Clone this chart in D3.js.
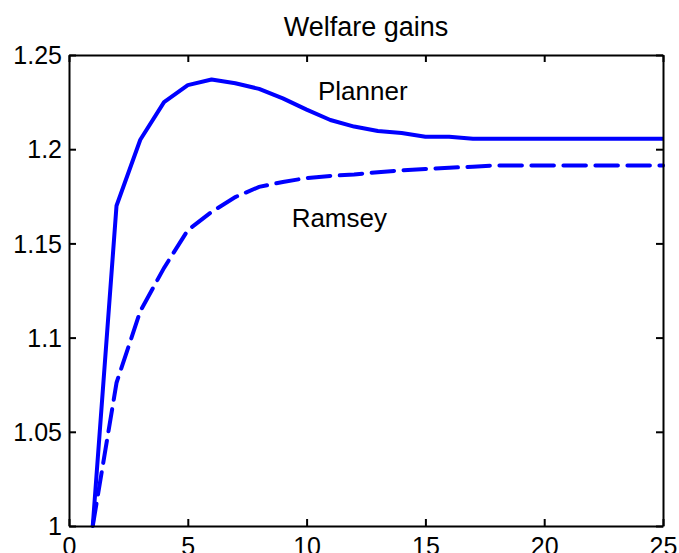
<!DOCTYPE html>
<html>
<head>
<meta charset="utf-8">
<script src="https://cdn.jsdelivr.net/npm/d3@7"></script>
<style>
  body { margin: 0; background: #fff; }
  svg { display: block; font-family: Arial, "Liberation Sans", Helvetica, sans-serif; }
</style>
</head>
<body>
<svg id="mainSvg" width="679" height="553"></svg>
<script>
// periods 1..25
let periods = d3.range(1, 26)
let planner = [1.000, 1.170, 1.205, 1.225, 1.234, 1.237, 1.235, 1.232, 1.227, 1.221,
    1.2155, 1.212, 1.2097, 1.2086, 1.2066, 1.2066, 1.2055, 1.2055, 1.2055, 1.2055,
    1.2055, 1.2055, 1.2055, 1.2055, 1.2055]
let ramsey = [1.000, 1.076, 1.114, 1.137, 1.157, 1.1667, 1.1746, 1.180, 1.1826, 1.1847,
    1.1858, 1.1866, 1.1878, 1.1888, 1.1895, 1.1902, 1.1907, 1.1914, 1.1914, 1.1914,
    1.1914, 1.1914, 1.1914, 1.1914, 1.1914]
let xTicks = [0, 5, 10, 15, 20, 25]
let yTicks = [1, 1.05, 1.1, 1.15, 1.2, 1.25]
let labels = [
    { text: 'Planner', x: 10.48, y: 1.2309 },
    { text: 'Ramsey', x: 9.37, y: 1.1635 }
]

let svg = d3.select('#mainSvg')
let plotLeft = 69, plotRight = 663, plotTop = 55, plotBottom = 526

let x = d3.scaleLinear().domain([0, 25]).range([plotLeft, plotRight])
let y = d3.scaleLinear().domain([1, 1.25]).range([plotBottom, plotTop])

let line = d3.line()
    .x((d, i) => x(periods[i]))
    .y(d => y(d))

// series
svg.append('path')
    .datum(planner)
    .attr('d', line)
    .attr('fill', 'none')
    .attr('stroke', '#0000ff')
    .attr('stroke-width', 4)
    .attr('stroke-linejoin', 'round')

svg.append('path')
    .datum(ramsey)
    .attr('d', line)
    .attr('fill', 'none')
    .attr('stroke', '#0000ff')
    .attr('stroke-width', 4)
    .attr('stroke-linecap', 'round')
    .attr('stroke-dasharray', '22.5,9.5')

// axes, ticks inside on all four sides
let tickLen = 7
let fmtY = d => String(+d.toFixed(2))

let gx = svg.append('g')
    .attr('transform', 'translate(0,' + plotBottom + ')')
    .call(d3.axisBottom(x).tickValues(xTicks).tickSizeInner(-tickLen).tickSizeOuter(0).tickPadding(11))
let gxTop = svg.append('g')
    .attr('transform', 'translate(0,' + plotTop + ')')
    .call(d3.axisTop(x).tickValues(xTicks).tickSizeInner(-tickLen).tickSizeOuter(0).tickFormat(''))
let gy = svg.append('g')
    .attr('transform', 'translate(' + plotLeft + ',0)')
    .call(d3.axisLeft(y).tickValues(yTicks).tickSizeInner(-tickLen).tickSizeOuter(0).tickPadding(14).tickFormat(fmtY))
let gyRight = svg.append('g')
    .attr('transform', 'translate(' + plotRight + ',0)')
    .call(d3.axisRight(y).tickValues(yTicks).tickSizeInner(-tickLen).tickSizeOuter(0).tickFormat(''))

svg.selectAll('.domain').attr('stroke', '#000').attr('stroke-width', 2)
svg.selectAll('.tick line').attr('stroke', '#000').attr('stroke-width', 2)
svg.selectAll('.tick text')
    .attr('fill', '#000')
    .attr('font-size', 25)
    .attr('font-family', 'Arial, "Liberation Sans", sans-serif')

gx.selectAll('.tick text').attr('dy', '0.71em')
gy.selectAll('.tick text').attr('dy', '0.35em').attr('x', -7)

// title
svg.append('text')
    .attr('x', (plotLeft + plotRight) / 2)
    .attr('y', 36)
    .attr('text-anchor', 'middle')
    .attr('font-size', 27)
    .text('Welfare gains')

// line labels
svg.selectAll('.lbl')
    .data(labels)
    .enter()
    .append('text')
    .attr('class', 'lbl')
    .attr('x', d => x(d.x))
    .attr('y', d => y(d.y))
    .attr('dy', '0.35em')
    .attr('font-size', 26)
    .text(d => d.text)
</script>
</body>
</html>
